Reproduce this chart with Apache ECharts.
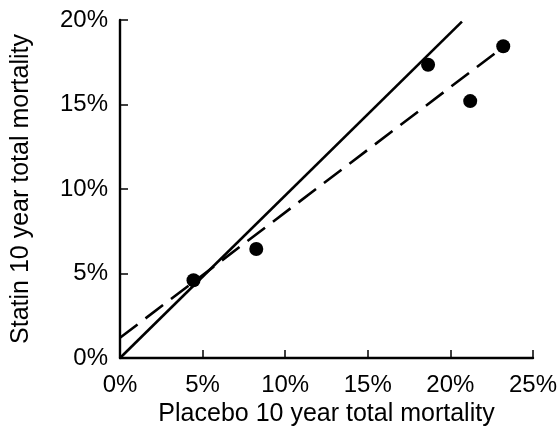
<!DOCTYPE html>
<html>
<head>
<meta charset="utf-8">
<script src="https://cdn.jsdelivr.net/npm/echarts@6/dist/echarts.min.js"></script>
<style>
  html, body { margin: 0; padding: 0; background: #fff; }
  #main { width: 560px; height: 437px; }
</style>
</head>
<body>
<div id="main"></div>
<script>
// values in percent
const placebo = [4.45, 8.25, 18.65, 21.2, 23.2];
const statin = [4.6, 6.45, 17.35, 15.2, 18.45];
// solid line (statin = placebo reference)
const solidX = [0, 20.7];
const solidY = [0, 19.9];
// dashed fitted line
const dashX = [0, 23.2];
const dashY = [1.2, 18.4];

const xTicks = { min: 0, max: 25, interval: 5 };
const yTicks = { min: 0, max: 20, interval: 5 };

const font = 'Liberation Sans, Arial, sans-serif';

const zip = (a, b) => a.map((v, i) => [v, b[i]]);

let myChart = echarts.init(document.getElementById('main'));
let option = {
    animation: false,
    grid: { left: 120, top: 20, right: 26, bottom: 79 },
    xAxis: {
        type: 'value',
        min: xTicks.min, max: xTicks.max, interval: xTicks.interval,
        name: 'Placebo 10 year total mortality',
        nameLocation: 'middle',
        nameGap: 44,
        nameTextStyle: { color: '#000', fontSize: 25, fontFamily: font },
        axisLine: { lineStyle: { color: '#000', width: 2.4 } },
        axisTick: { inside: true, length: 8, lineStyle: { color: '#000', width: 1.5 } },
        axisLabel: { formatter: '{value}%', color: '#000', fontSize: 24, fontFamily: font, margin: 15 },
        splitLine: { show: false }
    },
    yAxis: {
        type: 'value',
        min: yTicks.min, max: yTicks.max, interval: yTicks.interval,
        name: 'Statin 10 year total mortality',
        nameLocation: 'middle',
        nameGap: 86,
        nameTextStyle: { color: '#000', fontSize: 25, fontFamily: font },
        axisLine: { lineStyle: { color: '#000', width: 2.4 } },
        axisTick: { inside: true, length: 8, lineStyle: { color: '#000', width: 1.5 } },
        axisLabel: { formatter: '{value}%', color: '#000', fontSize: 24, fontFamily: font, margin: 12 },
        splitLine: { show: false }
    },
    series: [
        {
            type: 'line',
            data: zip(solidX, solidY),
            showSymbol: false,
            lineStyle: { color: '#000', width: 2.6 }
        },
        {
            type: 'line',
            data: zip(dashX, dashY),
            showSymbol: false,
            lineStyle: { color: '#000', width: 2.6, type: [22, 10] }
        },
        {
            type: 'scatter',
            data: zip(placebo, statin),
            symbolSize: 14,
            itemStyle: { color: '#000', opacity: 1 }
        }
    ]
};
myChart.setOption(option);
</script>
</body>
</html>
